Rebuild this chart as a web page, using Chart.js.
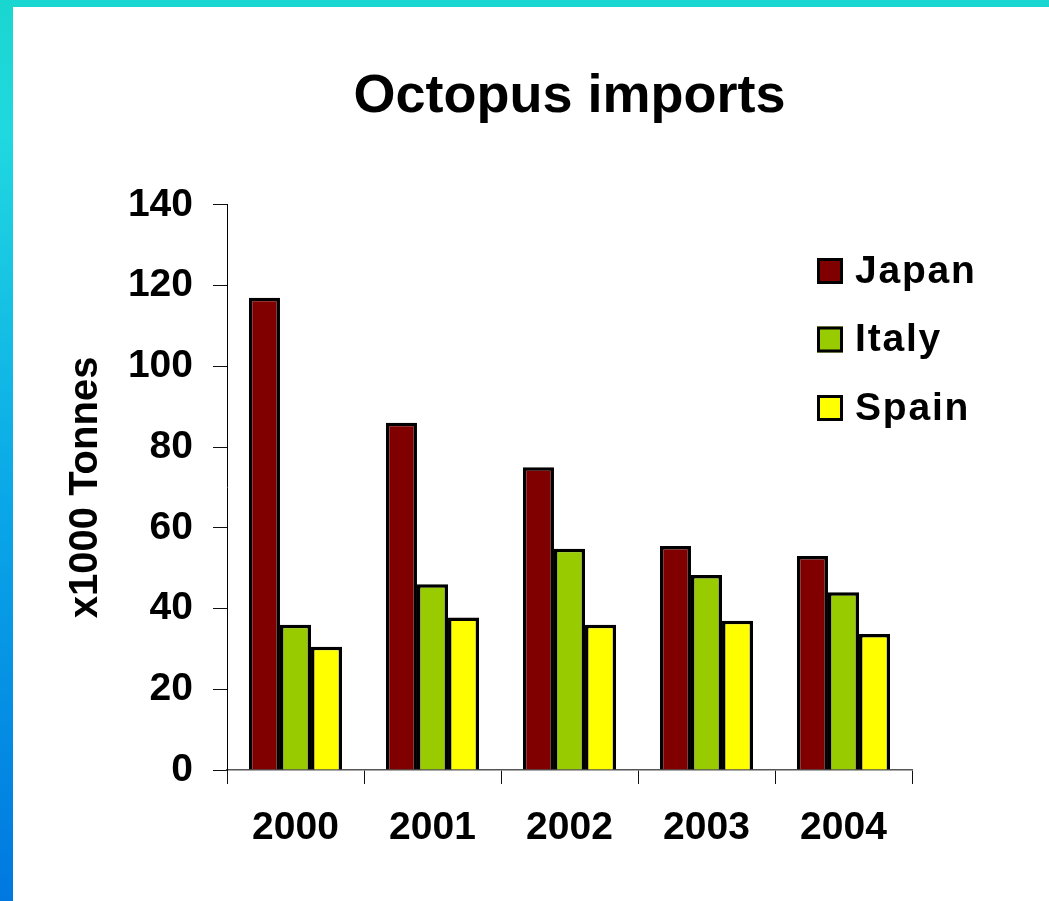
<!DOCTYPE html>
<html><head><meta charset="utf-8">
<script src="https://cdn.jsdelivr.net/npm/chart.js@4/dist/chart.umd.min.js"></script>
<style>html,body{margin:0;padding:0;background:#fff;overflow:hidden}#wrap{position:relative;width:1049px;height:901px}canvas{display:block}</style>
</head><body><div id="wrap"><canvas id="c" width="1049" height="901"></canvas></div>
<script>
const categories = ['2000', '2001', '2002', '2003', '2004'];
const seriesNames = ['Japan', 'Italy', 'Spain'];
const japanValues = [117, 86, 75, 55.5, 53];
const italyValues = [36, 46, 54.8, 48.3, 44];
const spainValues = [30.5, 37.8, 36, 37, 33.7];
const yMin = 0, yMax = 140, yStep = 20;
const chartTitle = 'Octopus imports';
const yAxisTitle = 'x1000 Tonnes';

const FONT = "'Liberation Sans', Arial, Helvetica, sans-serif";
Chart.defaults.font.family = FONT;
Chart.defaults.color = '#000';

const bgPlugin = {
  id: 'bg',
  beforeDraw(chart) {
    const ctx = chart.ctx, W = chart.width, H = chart.height;
    ctx.save();
    ctx.fillStyle = '#fff';
    ctx.fillRect(0, 0, W, H);
    const g = ctx.createLinearGradient(0, 0, 0, H);
    g.addColorStop(0, '#1ad6d0');
    g.addColorStop(0.15, '#20d8e0');
    g.addColorStop(0.55, '#0aa8e8');
    g.addColorStop(1, '#0078e0');
    ctx.fillStyle = g;
    ctx.fillRect(0, 0, 13, H);
    ctx.fillStyle = '#1ad6d0';
    ctx.fillRect(0, 0, W, 7);
    ctx.restore();
  }
};

const legendPlugin = {
  id: 'customLegend',
  afterDraw(chart) {
    const ctx = chart.ctx;
    ctx.save();
    chart.data.datasets.forEach((ds, i) => {
      const x = 817, y = 258 + i * 68.5, s = 26;
      ctx.fillStyle = ds.backgroundColor;
      ctx.fillRect(x, y, s, s);
      ctx.lineWidth = 3;
      ctx.strokeStyle = '#000';
      ctx.strokeRect(x + 1.5, y + 1.5, s - 3, s - 3);
      ctx.fillStyle = '#000';
      ctx.font = 'bold 39px ' + FONT;
      ctx.textBaseline = 'middle';
      ctx.textAlign = 'left';
      try { ctx.letterSpacing = '1.8px'; } catch (e) {}
      ctx.fillText(ds.label, 855, y + s / 2 + 1);
    });
    ctx.restore();
  }
};

const colors = ['#800000', '#99cc00', '#ffff00'];
const seriesValues = [japanValues, italyValues, spainValues];

new Chart(document.getElementById('c'), {
  type: 'bar',
  data: {
    labels: categories,
    datasets: seriesNames.map((name, i) => ({
      label: name,
      data: seriesValues[i],
      backgroundColor: colors[i],
      borderColor: '#000',
      borderWidth: 3.5,
      categoryPercentage: 0.68,
      barPercentage: 1.0
    }))
  },
  options: {
    responsive: false,
    animation: false,
    devicePixelRatio: 1,
    layout: { padding: { top: 0, left: 0, right: 137, bottom: 0 } },
    plugins: {
      legend: { display: false },
      tooltip: { enabled: false },
      title: {
        display: true,
        text: chartTitle,
        fullSize: false,
        color: '#000',
        font: { size: 54, weight: 'bold', family: FONT },
        padding: { top: 65, bottom: 75 }
      }
    },
    scales: {
      x: {
        grid: { display: true, drawOnChartArea: false, drawTicks: true, tickLength: 14, color: '#111', lineWidth: 1, offset: true },
        border: { display: true, color: '#555', width: 1.5 },
        ticks: { color: '#000', font: { size: 39, weight: 'bold', family: FONT }, padding: 21, maxRotation: 0 },
        afterFit(scale) { scale.height = 131; }
      },
      y: {
        min: yMin, max: yMax,
        grid: { display: true, drawOnChartArea: false, drawTicks: true, tickLength: 14, color: '#111', lineWidth: 1 },
        border: { display: true, color: '#000', width: 1 },
        ticks: { stepSize: yStep, color: '#000', font: { size: 39, weight: 'bold', family: FONT }, padding: 20 },
        title: { display: true, text: yAxisTitle, color: '#000', font: { size: 40, weight: 'bold', family: FONT }, padding: { top: 62, bottom: 0 } },
        afterFit(scale) { scale.width = 227; }
      }
    }
  },
  plugins: [bgPlugin, legendPlugin]
});
</script>
</body></html>
